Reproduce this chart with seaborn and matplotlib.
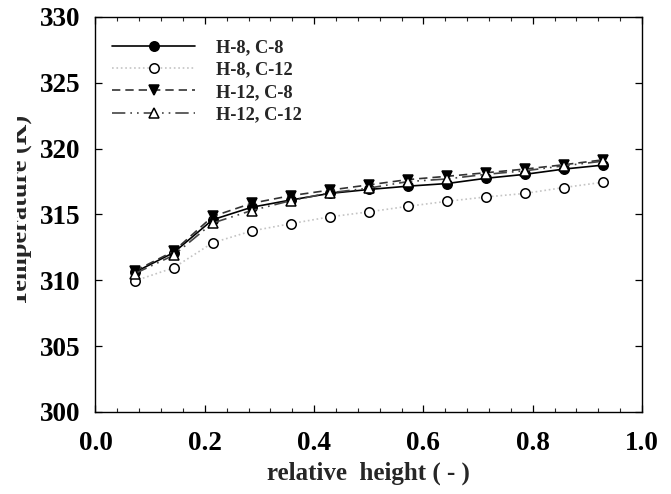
import numpy as np
import pandas as pd
import matplotlib
matplotlib.use("Agg")
import matplotlib.pyplot as plt
from matplotlib.patches import Rectangle
from matplotlib.ticker import MultipleLocator
import seaborn as sns

# relative height of the measuring points (13 levels)
rel_height = [1/14, 2/14, 3/14, 4/14, 5/14, 6/14, 7/14, 8/14, 9/14, 10/14, 11/14, 12/14, 13/14]

temp_h8_c8 = [310.6, 312.1, 314.6, 315.55, 316.1, 316.6, 316.9, 317.15, 317.35, 317.75, 318.05, 318.45, 318.75]
temp_h8_c12 = [309.95, 310.95, 312.85, 313.75, 314.3, 314.82, 315.2, 315.62, 316.0, 316.33, 316.6, 317.05, 317.45]
temp_h12_c8 = [310.7, 312.2, 314.85, 315.85, 316.43, 316.85, 317.25, 317.65, 317.9, 318.17, 318.45, 318.78, 319.15]
temp_h12_c12 = [310.5, 311.9, 314.35, 315.3, 316.05, 316.65, 317.0, 317.5, 317.7, 318.05, 318.32, 318.7, 319.05]

series_labels = ["H-8, C-8", "H-8, C-12", "H-12, C-8", "H-12, C-12"]
series_values = [temp_h8_c8, temp_h8_c12, temp_h12_c8, temp_h12_c12]

x_ticks = [0.0, 0.2, 0.4, 0.6, 0.8, 1.0]
x_tick_labels = ["0.0", "0.2", "0.4", "0.6", "0.8", "1.0"]
y_ticks = [300, 305, 310, 315, 320, 325, 330]

df = pd.concat(
    [pd.DataFrame({"height": rel_height, "temp": vals, "case": lab})
     for lab, vals in zip(series_labels, series_values)],
    ignore_index=True,
)

sns.set_style("ticks")
plt.rcParams["font.family"] = ["Liberation Serif", "DejaVu Serif"]
plt.rcParams["font.weight"] = "bold"

fig = plt.figure(figsize=(6.71, 4.94), dpi=100)
ax = fig.add_axes([0.1423, 0.166, 0.8145, 0.7996])

styles = {
    "H-8, C-8": dict(color="black", linestyle="-", marker="o", mfc="black", mec="black"),
    "H-8, C-12": dict(color="#c4c4c4", linestyle=":", marker="o", mfc="white", mec="black"),
    "H-12, C-8": dict(color="#333333", linestyle=(0, (5, 3)), marker="v", mfc="black", mec="black"),
    "H-12, C-12": dict(color="#444444", linestyle=(0, (8, 3, 1, 3, 1, 3)), marker="^", mfc="white", mec="black"),
}

for lab in series_labels:
    sub = df[df["case"] == lab]
    st = styles[lab]
    sns.lineplot(data=sub, x="height", y="temp", ax=ax, label=lab,
                 color=st["color"], linestyle=st["linestyle"], marker=st["marker"],
                 markerfacecolor=st["mfc"], markeredgecolor=st["mec"],
                 markersize=6.8, markeredgewidth=1.1, linewidth=1.2)

ax.set_xlim(0, 1)
ax.set_ylim(300, 330)
ax.set_xticks(x_ticks)
ax.set_xticklabels(x_tick_labels)
ax.set_yticks(y_ticks)
ax.xaxis.set_minor_locator(MultipleLocator(0.04))

for side in ["top", "right", "left", "bottom"]:
    ax.spines[side].set_visible(True)
    ax.spines[side].set_linewidth(1.0)
    ax.spines[side].set_color("black")

ax.tick_params(axis="both", which="major", direction="in", length=5, width=0.9,
               top=True, right=True, labelsize=19.5, colors="black")
ax.tick_params(axis="y", which="major", pad=10.5)
ax.tick_params(axis="x", which="major", pad=14)
ax.tick_params(axis="x", which="minor", direction="in", length=3, width=0.8, top=True, bottom=True)

ax.set_xlabel("relative  height ( - )", fontsize=18, fontweight="bold", labelpad=4)
ax.set_ylabel("Temperature (K)", fontsize=19, fontweight="bold")
ax.yaxis.set_label_coords(-0.114, 0.51)

leg = ax.legend(loc="upper left", bbox_to_anchor=(0.0, 0.985), frameon=False,
                fontsize=13.3, handlelength=4.5, handletextpad=1.1, labelspacing=0.28,
                borderaxespad=0.5)
for t in leg.get_texts():
    t.set_fontweight("bold")

# white strip along the left border of the figure
fig.patches.append(Rectangle((0, 0), 17 / 671, 1, transform=fig.transFigure,
                             facecolor="white", edgecolor="none", zorder=10))

fig.savefig("out.png", dpi=100, facecolor="white")
